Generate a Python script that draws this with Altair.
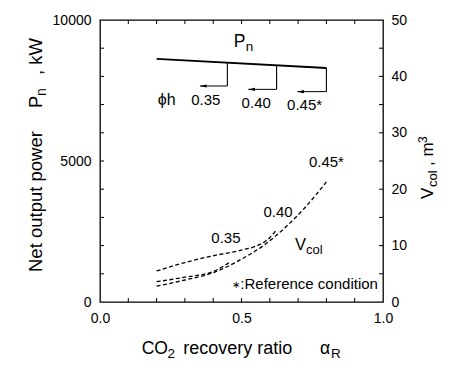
import altair as alt
import pandas as pd

# ---------------- data ----------------
# Net output power Pn (kW) vs CO2 recovery ratio alpha_R
pn_x = [0.2, 0.8]
pn_val = [8620, 8300]

# phi_h range markers hanging from the Pn line
phi_labels = ["0.35", "0.40", "0.45*"]
phi_end_x = [0.45, 0.624, 0.80]
phi_top_pn = [8487, 8394, 8300]
phi_bottom_pn = [7660, 7540, 7460]
phi_arrow_x = [0.353, 0.524, 0.697]

# column volume Vcol (m3) for each phi_h
v35_x = [0.2, 0.3, 0.4, 0.46]
v35_v = [3.6, 4.4, 5.4, 7.1]
v40_x = [0.2, 0.3, 0.4, 0.5, 0.55, 0.6, 0.62]
v40_v = [5.5, 7.0, 8.2, 9.2, 9.9, 11.4, 12.6]
v45_x = [0.2, 0.3, 0.4, 0.5, 0.58, 0.65, 0.72, 0.8]
v45_v = [2.8, 3.9, 5.2, 7.6, 10.1, 13.0, 16.5, 21.3]

# axes
x_label_vals = [0.0, 0.5, 1.0]
x_tick_vals = [0.1, 0.2, 0.3, 0.4, 0.5, 0.6, 0.7, 0.8, 0.9]
pn_label_vals = [0, 5000, 10000]
pn_tick_vals = [1000, 2000, 3000, 4000, 5000, 6000, 7000, 8000, 9000]
v_label_vals = [0, 10, 20, 30, 40, 50]
v_tick_vals = [5, 10, 15, 20, 25, 30, 35, 40, 45]

# ---------------- styling ----------------
W, H = 283, 282
FONT = "Liberation Sans"
TL = 4  # inward tick length

xscale = alt.Scale(domain=[0, 1], nice=False, zero=False)
pscale = alt.Scale(domain=[0, 10000], nice=False)
vscale = alt.Scale(domain=[0, 50], nice=False)

common_axis = dict(ticks=False, domain=False, grid=False, labelFont=FONT,
                   labelFontSize=14, labelColor="black", title="",
                   labelFlush=False, labelOverlap=False)
xaxis = alt.Axis(values=x_label_vals, format=".1f", labelPadding=9, **common_axis)
paxis = alt.Axis(values=pn_label_vals, format="d", labelPadding=9, **common_axis)
vaxis = alt.Axis(orient="right", values=v_label_vals, format="d", labelPadding=8, **common_axis)


def X(f):
    return alt.X(f, type="quantitative", scale=xscale, axis=xaxis)


def YP(f):
    return alt.Y(f, type="quantitative", scale=pscale, axis=paxis)


def YV(f):
    return alt.Y(f, type="quantitative", scale=vscale, axis=vaxis)


# ---------------- left (Pn) group ----------------
pn_df = pd.DataFrame({"x": pn_x, "pn": pn_val})
pn_line = alt.Chart(pn_df).mark_line(color="black", strokeWidth=1.9).encode(
    x=X("x"), y=YP("pn"))

mk = pd.DataFrame({"label": phi_labels, "xe": phi_end_x, "top": phi_top_pn,
                   "bot": phi_bottom_pn, "xa": phi_arrow_x})
vert = alt.Chart(mk).mark_rule(color="black", strokeWidth=1.1).encode(
    x=X("xe"), y=YP("top"), y2="bot:Q")
horiz = alt.Chart(mk).mark_rule(color="black", strokeWidth=1.0).encode(
    x=X("xa"), x2="xe:Q", y=YP("bot"))
heads = alt.Chart(mk).mark_point(shape="M0,0L2,-0.45L2,0.45Z", filled=True,
                                 size=45, color="black", opacity=1).encode(
    x=X("xa"), y=YP("bot"))

# annotation positions (data units)
phi_lab_x = [0.374, 0.552, 0.723]
phi_lab_pn = [7163, 7074, 6986]
phi_lab_df = pd.DataFrame({"x": phi_lab_x, "pn": phi_lab_pn, "t": phi_labels})
phi_text = alt.Chart(phi_lab_df).mark_text(font=FONT, fontSize=15, color="black",
                                          baseline="middle", align="center").encode(
    x=X("x"), y=YP("pn"), text="t:N")

phih_df = pd.DataFrame({"x": [0.236], "pn": [7163], "t": ["ϕh"]})
phih_text = alt.Chart(phih_df).mark_text(font=FONT, fontSize=16, color="black",
                                        baseline="middle", align="center").encode(
    x=X("x"), y=YP("pn"), text="t:N")

pn_lab_df = pd.DataFrame({"x": [0.473], "pn": [9053]})
pn_P = alt.Chart(pn_lab_df).mark_text(text="P", font=FONT, fontSize=17.5, color="black",
                                     align="left", baseline="alphabetic").encode(
    x=X("x"), y=YP("pn"))
pn_n = alt.Chart(pn_lab_df).mark_text(text="n", font=FONT, fontSize=13.5, color="black",
                                     align="left", baseline="alphabetic", dx=11.8, dy=4).encode(
    x=X("x"), y=YP("pn"))

xt_df = pd.DataFrame({"t": x_tick_vals})
xt_bottom = alt.Chart(xt_df).mark_rule(color="black", strokeWidth=1).encode(
    x=X("t"), y=alt.value(H), y2=alt.value(H - TL))
xt_top = alt.Chart(xt_df).mark_rule(color="black", strokeWidth=1).encode(
    x=X("t"), y=alt.value(0), y2=alt.value(TL))
pt_df = pd.DataFrame({"t": pn_tick_vals})
pn_ticks = alt.Chart(pt_df).mark_rule(color="black", strokeWidth=1).encode(
    y=YP("t"), x=alt.value(0), x2=alt.value(TL))

# axis titles built from text pieces (for sub/superscripts)
one = pd.DataFrame({"a": [0]})


def txt(s, x, y, size, angle=0, align="left"):
    kw = dict(text=s, font=FONT, fontSize=size, color="black", align=align,
              baseline="alphabetic")
    if angle:
        kw["angle"] = angle
    return alt.Chart(one).mark_text(**kw).encode(x=alt.value(x), y=alt.value(y))


titles = [
    # x title
    txt("CO", 41.7, 334, 17.5),
    txt("2", 67.5, 338, 13.5),
    txt("recovery ratio", 83.3, 334, 18),
    txt("α", 220, 334, 17.5),
    txt("R", 231, 338, 13.5),
    # left title (rotated)
    txt("Net output power", -58.5, 252, 18.5, 270),
    txt("P", -58.5, 88, 18.5, 270),
    txt("n", -54.5, 76, 14, 270),
    txt(", kW", -58.5, 55, 18.5, 270),
    # right title (rotated)
    txt("V", 333, 179, 17, 270),
    txt("col", 337, 167, 13, 270),
    txt(", m", 333, 146, 17, 270),
    txt("3", 327, 123, 12, 270),
]

left = alt.layer(pn_line, vert, horiz, heads, phi_text, phih_text, pn_P, pn_n,
                 xt_bottom, xt_top, pn_ticks, *titles)

# ---------------- right (Vcol) group ----------------
curve_df = pd.concat([
    pd.DataFrame({"x": v35_x, "v": v35_v, "phi": "0.35"}),
    pd.DataFrame({"x": v40_x, "v": v40_v, "phi": "0.40"}),
    pd.DataFrame({"x": v45_x, "v": v45_v, "phi": "0.45"}),
], ignore_index=True)
curves = alt.Chart(curve_df).mark_line(color="black", strokeWidth=1.3,
                                       strokeDash=[4, 2.5], interpolate="monotone").encode(
    x=X("x"), y=YV("v"), detail="phi:N")

vlab_x = [0.445, 0.629, 0.80]
vlab_v = [11.4, 16.0, 24.8]
vlab_df = pd.DataFrame({"x": vlab_x, "v": vlab_v, "t": phi_labels})
v_text = alt.Chart(vlab_df).mark_text(font=FONT, fontSize=15, color="black",
                                     baseline="middle", align="center").encode(
    x=X("x"), y=YV("v"), text="t:N")

vcol_df = pd.DataFrame({"x": [0.689], "v": [9.2]})
vcol_V = alt.Chart(vcol_df).mark_text(text="V", font=FONT, fontSize=16.5, color="black",
                                     align="left", baseline="alphabetic").encode(
    x=X("x"), y=YV("v"))
vcol_sub = alt.Chart(vcol_df).mark_text(text="col", font=FONT, fontSize=13, color="black",
                                       align="left", baseline="alphabetic", dx=11, dy=4).encode(
    x=X("x"), y=YV("v"))

ref_df = pd.DataFrame({"x": [0.982], "v": [3.2]})
ref_text = alt.Chart(ref_df).mark_text(text=":Reference condition", font=FONT, fontSize=15,
                                      color="black", align="right", baseline="middle").encode(
    x=X("x"), y=YV("v"))
ref_star = alt.Chart(ref_df).mark_text(text="∗", font=FONT, fontSize=10,
                                      color="black", align="right", baseline="middle",
                                      dx=-138, dy=1).encode(
    x=X("x"), y=YV("v"))

vt_df = pd.DataFrame({"t": v_tick_vals})
v_ticks = alt.Chart(vt_df).mark_rule(color="black", strokeWidth=1).encode(
    y=YV("t"), x=alt.value(W), x2=alt.value(W - TL))

right = alt.layer(curves, v_text, vcol_V, vcol_sub, ref_text, ref_star, v_ticks)

chart = alt.layer(left, right).resolve_scale(y="independent").properties(
    width=W, height=H,
    autosize=alt.AutoSizeParams(type="none"),
    padding={"left": 92, "top": 12, "right": 58, "bottom": 62},
    background="white",
).configure_view(stroke="black", strokeWidth=1.3)

chart.save("out.html", embed_options={"renderer": "svg", "actions": False})
